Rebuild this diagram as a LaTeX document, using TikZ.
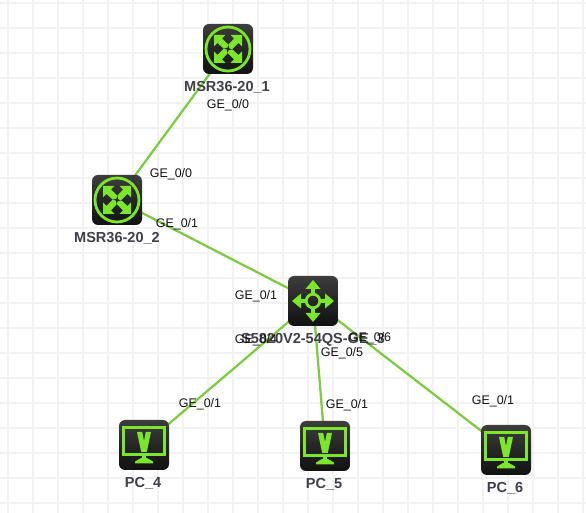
\documentclass[tikz,border=0pt]{standalone}
\usepackage{fontspec}
\setmainfont{Liberation Sans}
\usetikzlibrary{backgrounds,arrows.meta}
\definecolor{gridc}{HTML}{F2F2F2}
\definecolor{linkc}{HTML}{7CCB42}
\definecolor{iconc}{HTML}{7CE62A}
\definecolor{namec}{HTML}{3F3F4A}
\definecolor{portc}{HTML}{111111}
\tikzset{
  x=0.75pt,y=-0.75pt,
  devbox/.style={minimum size=37.5pt,inner sep=0pt,rounded corners=4.5pt,top color=black!76,bottom color=black!93,middle color=black!85},
  devname/.style={font=\bfseries\fontsize{10.9pt}{12pt}\selectfont,text=namec,inner sep=0pt},
  port/.style={font=\fontsize{9.35pt}{11pt}\selectfont,text=portc,inner sep=0pt},
  link/.style={draw=linkc,line width=1.7pt},
  gridline/.style={draw=gridc,line width=1.5pt},
  iconline/.style={draw=iconc,line width=2pt},
  routerarrow/.pic={
    \fill[iconc] (-14,-14) -- (-2.5,-14) -- (-6,-10.5) -- (0.3,-4.2) -- (-0.5,-1.5) -- (-4.2,-0.3) -- (-10.5,-6) -- (-14,-2.5) -- cycle;
  },
  routericon/.pic={
    \draw[iconline,line width=2.1pt] (0,0) circle (22);
    \pic {routerarrow};
    \pic[rotate=90] {routerarrow};
    \pic[rotate=180] {routerarrow};
    \pic[rotate=270] {routerarrow};
  },
  switcharrow/.pic={
    \draw[iconline,line width=2.5pt] (0,-6) -- (0,-14);
    \fill[iconc] (0,-21) -- (7.5,-12) -- (-7.5,-12) -- cycle;
  },
  switchicon/.pic={
    \draw[iconline,line width=2.1pt] (0,0) circle (6.8);
    \pic {switcharrow};
    \pic[rotate=90] {switcharrow};
    \pic[rotate=180] {switcharrow};
    \pic[rotate=270] {switcharrow};
  },
  pcicon/.pic={
    \draw[iconline,line width=1.9pt] (-20.5,-17.5) rectangle (20.5,9.5);
    \fill[iconc] (-7,-13) -- (-1.8,-13) -- (0,-4) -- (1.8,-13) -- (7,-13) -- (2.8,7) -- (-2.8,7) -- cycle;
    \fill[iconc] (-2,10) rectangle (2,14);
    \fill[iconc] (-3,13) -- (3,13) -- (9,16.5) -- (9,18.5) -- (-9,18.5) -- (-9,16.5) -- cycle;
  },
}
\begin{document}
\begin{tikzpicture}
\useasboundingbox (0,0) rectangle (586,513);
\node[devbox] (r1) at (228,49) {};
\node[devbox] (r2) at (117,200) {};
\node[devbox] (sw) at (313,301) {};
\node[devbox] (pc4) at (144,445) {};
\node[devbox] (pc5) at (325,446) {};
\node[devbox] (pc6) at (506,450) {};
\pic at (r1) {routericon};
\pic at (r2) {routericon};
\pic at (sw) {switchicon};
\pic at (pc4) {pcicon};
\pic at (pc5) {pcicon};
\pic at (pc6) {pcicon};
\begin{scope}[on background layer]
  \foreach \gx in {8,33,...,583} \draw[gridline] (\gx,0) -- (\gx,513);
  \foreach \gy in {3,28,...,503} \draw[gridline] (0,\gy) -- (586,\gy);
  \draw[link] (r1.center) -- (r2.center);
  \draw[link] (r2.center) -- (sw.center);
  \draw[link] (sw.center) -- (pc4.center);
  \draw[link] (sw.center) -- (pc5.center);
  \draw[link] (sw.center) -- (pc6.center);
\end{scope}
\node[devname] (n1) at (227,87) {MSR36-20\_1};
\node[devname] (n2) at (117,238) {MSR36-20\_2};
\node[devname] (n3) at (313,340) {S5820V2-54QS-GE\_3};
\node[devname] (n4) at (143,483) {PC\_4};
\node[devname] (n5) at (324,484) {PC\_5};
\node[devname] (n6) at (505,488) {PC\_6};
\node[port] (p1) at (228,105.5) {GE\_0/0};
\node[port] (p2) at (171,174) {GE\_0/0};
\node[port] (p3) at (177,224) {GE\_0/1};
\node[port] (p4) at (256,296.5) {GE\_0/1};
\node[port] (p5) at (256,340.5) {GE\_0/4};
\node[port] (p6) at (342,353.5) {GE\_0/5};
\node[port] (p7) at (370,338.5) {GE\_0/6};
\node[port] (p8) at (200,404) {GE\_0/1};
\node[port] (p9) at (347,405) {GE\_0/1};
\node[port] (p10) at (493,401) {GE\_0/1};
\end{tikzpicture}
\end{document}
